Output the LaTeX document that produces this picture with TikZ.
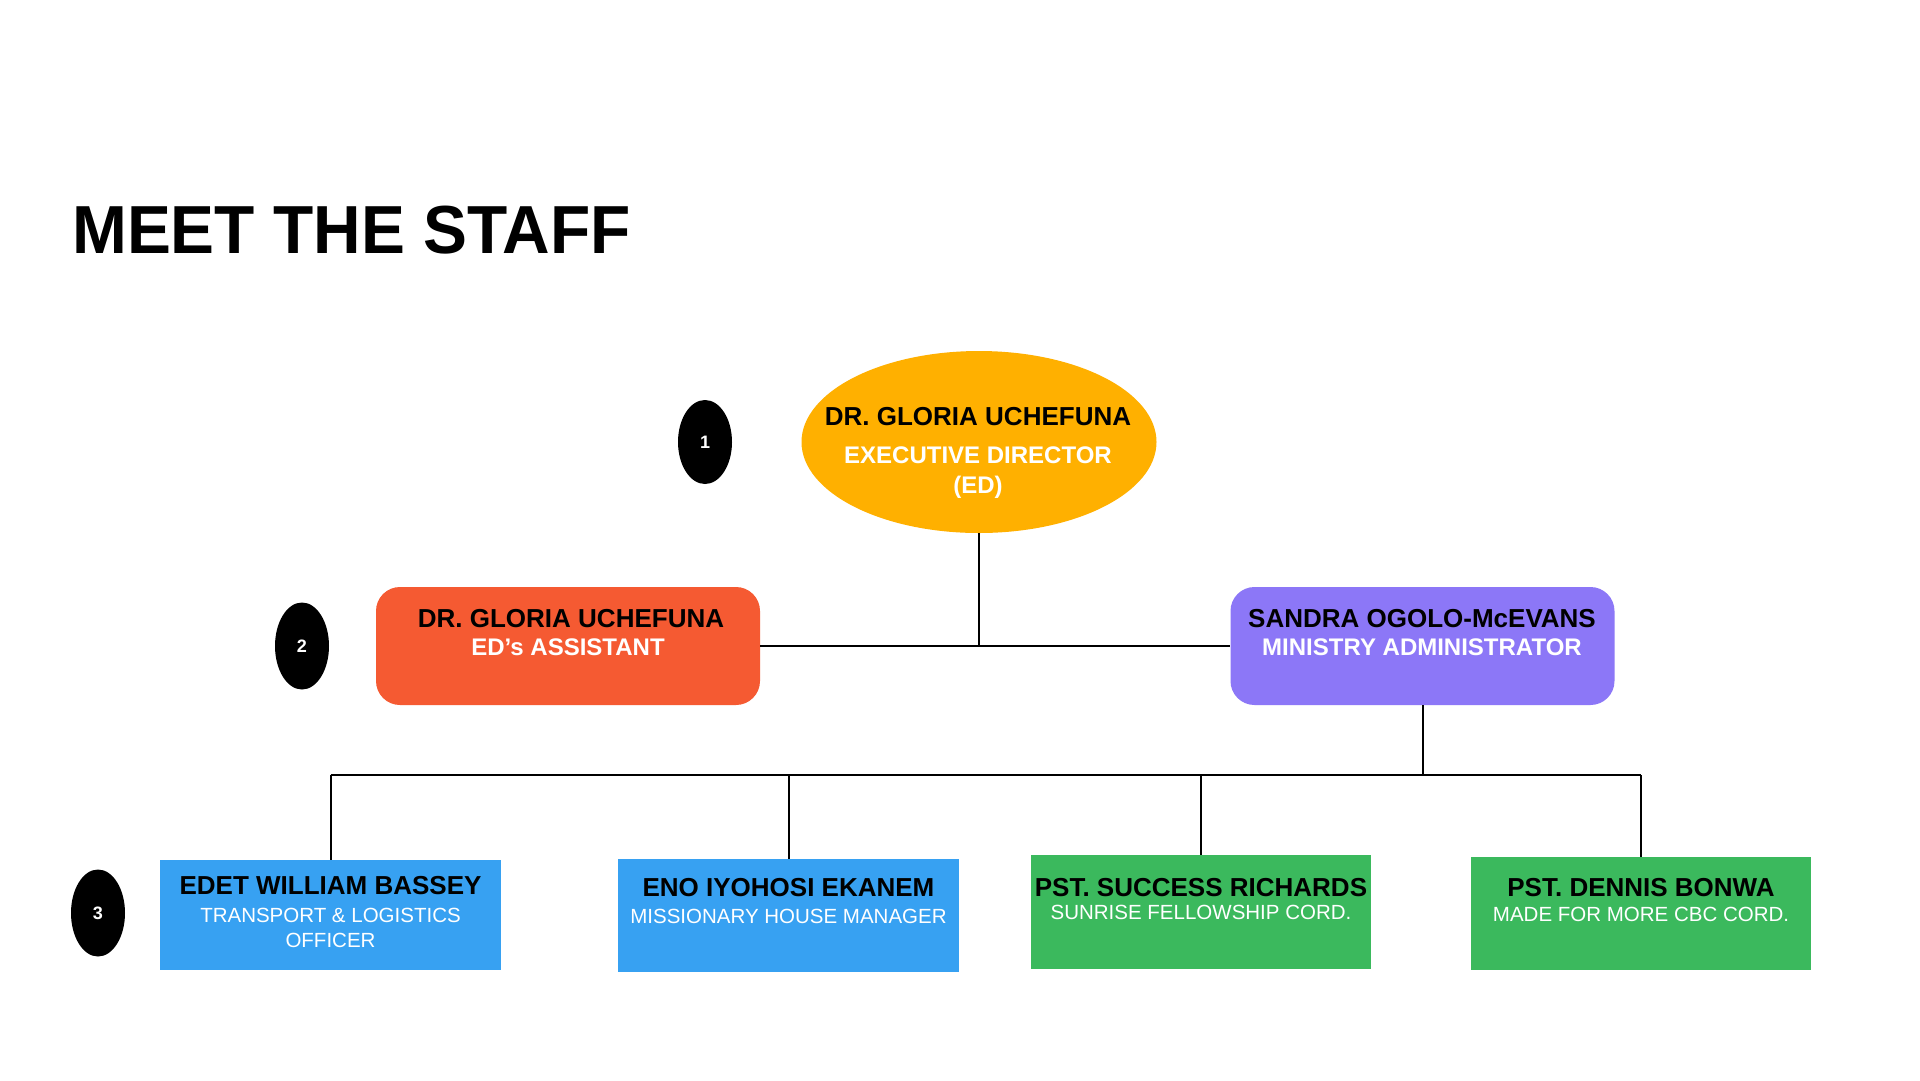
\documentclass[tikz,border=0pt]{standalone}
\usepackage{fontspec}
\setmainfont{Liberation Sans}
\newfontfamily\titlefont{Liberation Sans}[FakeStretch=0.968]
\usetikzlibrary{shapes.geometric}
\definecolor{edyellow}{HTML}{FFB000}
\definecolor{asstorange}{HTML}{F55A32}
\definecolor{adminpurple}{HTML}{8C77F7}
\definecolor{staffblue}{HTML}{37A1F2}
\definecolor{staffgreen}{HTML}{3BB95D}
\begin{document}
\begin{tikzpicture}[x=1pt,y=-1pt,
  badge/.style={ellipse, fill=black, text=white, inner sep=0pt,
    font=\bfseries\fontsize{18}{20}\selectfont, minimum width=54pt, minimum height=87pt},
  midbox/.style={rectangle, rounded corners=24pt, inner sep=0pt, minimum width=384pt, minimum height=118pt},
  staffbox/.style={rectangle, inner sep=0pt, minimum width=341pt, minimum height=112pt},
  pname/.style={anchor=base, inner sep=0pt, text=black, font=\bfseries\fontsize{26}{30}\selectfont},
  prole/.style={anchor=base, inner sep=0pt, text=white, font=\bfseries\fontsize{24}{28}\selectfont},
  pduty/.style={anchor=base, inner sep=0pt, text=white, font=\fontsize{20.5}{24}\selectfont},
  link/.style={draw=black, line width=2pt}
]
\useasboundingbox (0,0) rectangle (1920,1080);
\fill[white] (0,0) rectangle (1920,1080);

% title
\node[anchor=base west, inner sep=0pt, font=\titlefont\bfseries\fontsize{68}{72}\selectfont] (title) at (72,253) {MEET THE STAFF};

% level badges
\node[badge, minimum height=84pt] (b1) at (705,442) {1};
\node[badge] (b2) at (302,646) {2};
\node[badge] (b3) at (98,913) {3};

% executive director
\node[ellipse, fill=edyellow, inner sep=0pt, minimum width=355pt, minimum height=182pt] (ed) at (979,442) {};
\node[pname] (edn) at (978,425.5) {DR. GLORIA UCHEFUNA};
\node[prole] (edr) at (978,463.6) {EXECUTIVE DIRECTOR};
\node[prole] (edr2) at (978,493.6) {(ED)};

% second level
\node[midbox, fill=asstorange] (asst) at (568,646) {};
\node[pname] (asstn) at (571,627) {DR. GLORIA UCHEFUNA};
\node[prole] (asstr) at (568,655.6) {ED’s ASSISTANT};

\node[midbox, fill=adminpurple] (admin) at (1422.5,646) {};
\node[pname] (adminn) at (1422,627) {SANDRA OGOLO-McEVANS};
\node[prole] (adminr) at (1422,655.6) {MINISTRY ADMINISTRATOR};

% third level
\node[staffbox, fill=staffblue, minimum height=110pt] (s1) at (330.5,915) {};
\node[pname] (s1n) at (330.5,894) {EDET WILLIAM BASSEY};
\node[pduty] (s1d) at (330.5,922.3) {TRANSPORT \& LOGISTICS};
\node[pduty] (s1d2) at (330.5,947.3) {OFFICER};

\node[staffbox, fill=staffblue, minimum height=113pt] (s2) at (788.5,915.5) {};
\node[pname] (s2n) at (788.5,896) {ENO IYOHOSI EKANEM};
\node[pduty] (s2d) at (788.5,923.3) {MISSIONARY HOUSE MANAGER};

\node[staffbox, fill=staffgreen, minimum width=340pt, minimum height=114pt] (s3) at (1201,912) {};
\node[pname] (s3n) at (1201,896) {PST. SUCCESS RICHARDS};
\node[pduty] (s3d) at (1201,919.3) {SUNRISE FELLOWSHIP CORD.};

\node[staffbox, fill=staffgreen, minimum width=340pt, minimum height=113pt] (s4) at (1641,913.5) {};
\node[pname] (s4n) at (1641,896) {PST. DENNIS BONWA};
\node[pduty] (s4d) at (1641,921) {MADE FOR MORE CBC CORD.};

% connectors
\coordinate (bus) at (0,775);
\draw[link] (ed.south) -- (ed.south |- asst.east);
\draw[link] (asst.east) -- (admin.west);
\draw[link] (admin.south) -- (admin.south |- bus);
\draw[link] (s1.north |- bus) -- (s4.north |- bus);
\draw[link] (s1.north |- bus) -- (s1.north);
\draw[link] (s2.north |- bus) -- (s2.north);
\draw[link] (s3.north |- bus) -- (s3.north);
\draw[link] (s4.north |- bus) -- (s4.north);
\end{tikzpicture}
\end{document}
